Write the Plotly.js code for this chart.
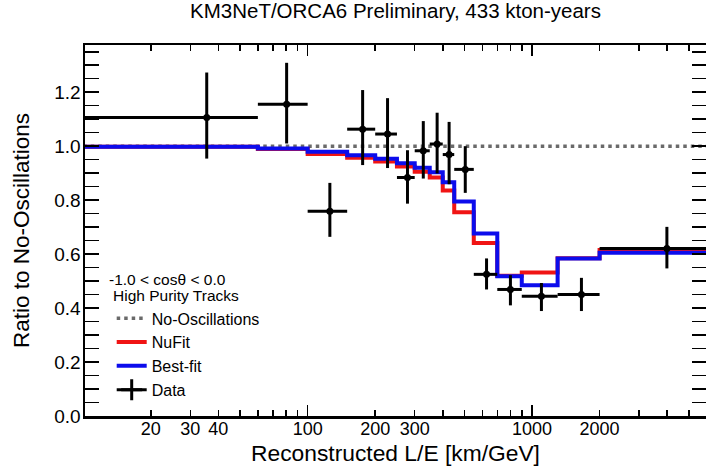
<!DOCTYPE html>
<html><head><meta charset="utf-8">
<script src="https://cdn.plot.ly/plotly-3.0.1.min.js"></script>
<style>html,body{margin:0;padding:0;background:#fff}#chart{width:706px;height:466px}</style>
</head><body><div id="chart"></div>
<script>
// ---- data ----
const binEdges   = [10, 60, 100, 150, 200, 250, 300, 350, 400, 450, 550, 700, 900, 1300, 2000, 6000];
const bestFit    = [0.998, 0.991, 0.979, 0.966, 0.953, 0.937, 0.920, 0.903, 0.866, 0.795, 0.676, 0.518, 0.485, 0.584, 0.605];
const nuFit      = [0.998, 0.990, 0.971, 0.957, 0.943, 0.925, 0.905, 0.884, 0.836, 0.755, 0.641, 0.520, 0.532, 0.585, 0.615];
const dataX      = [35.5, 80.6, 125.6, 175.8, 227, 278.5, 327.6, 377.6, 427, 504, 627, 801, 1101, 1660, 3990];
const dataY      = [1.106, 1.155, 0.759, 1.063, 1.045, 0.884, 0.983, 1.008, 0.969, 0.914, 0.525, 0.469, 0.444, 0.450, 0.621];
const dataHigh   = [1.273, 1.309, 0.864, 1.208, 1.178, 0.985, 1.093, 1.124, 1.090, 1.000, 0.584, 0.522, 0.493, 0.512, 0.701];
const dataLow    = [0.954, 1.010, 0.664, 0.930, 0.919, 0.787, 0.880, 0.899, 0.859, 0.827, 0.469, 0.410, 0.389, 0.389, 0.547];
const noOscRatio = 1.0;
const labeledTicks = [20, 30, 40, 100, 200, 300, 1000, 2000];
const allTicks     = [20, 30, 40, 50, 60, 70, 80, 90, 100, 200, 300, 400, 500, 600, 700, 800, 900, 1000, 2000, 3000, 4000, 5000];
const decadeTicks  = [100, 1000];
const yTicks       = [0, 0.2, 0.4, 0.6, 0.8, 1.0, 1.2];
const selectionLines = ['-1.0 &lt; cosθ &lt; 0.0', 'High Purity Tracks'];

// ---- derived ----
const nb = bestFit.length;
const lowEdges  = binEdges.slice(0, nb);
const highEdges = binEdges.slice(1);
const stepY = arr => arr.concat([arr[arr.length - 1]]);
const xRange = [Math.log10(10.18), Math.log10(5960)];

const RED = '#f01414', BLUE = '#0c0cec';

const traces = [
  { x: [binEdges[0], binEdges[binEdges.length - 1]], y: [noOscRatio, noOscRatio], mode: 'lines',
    name: 'No-Oscillations', line: { color: '#6a6a6a', width: 3.5, dash: '3.5px,4px' }, hoverinfo: 'skip' },
  { x: binEdges, y: stepY(nuFit), mode: 'lines', name: 'NuFit',
    line: { color: RED, width: 4, shape: 'hv' } },
  { x: binEdges, y: stepY(bestFit), mode: 'lines', name: 'Best-fit',
    line: { color: BLUE, width: 4, shape: 'hv' } },
  { x: dataX, y: dataY, mode: 'markers', name: 'Data', showlegend: false,
    marker: { color: '#000', size: 7, symbol: 'circle' },
    error_y: { type: 'data', symmetric: false,
      array: dataHigh.map((h, i) => h - dataY[i]),
      arrayminus: dataY.map((v, i) => v - dataLow[i]),
      color: '#000', thickness: 3, width: 0 },
    error_x: { type: 'data', symmetric: false,
      array: highEdges.map((h, i) => h - dataX[i]),
      arrayminus: dataX.map((v, i) => v - lowEdges[i]),
      color: '#000', thickness: 3, width: 0 } },
  { x: [null], y: [null], mode: 'lines+markers', name: 'Data', xaxis: 'x2',
    line: { color: '#000', width: 3 },
    marker: { symbol: 'cross-thin', size: 15, color: '#000', line: { color: '#000', width: 3 } } }
];

const FONT = '"Liberation Sans", Arial, Helvetica, sans-serif';
const layout = {
  width: 706, height: 466,
  margin: { l: 85, r: 0, t: 45, b: 50 },
  paper_bgcolor: '#fff', plot_bgcolor: '#fff',
  font: { family: FONT, color: '#000', size: 16 },
  title: { text: 'KM3NeT/ORCA6 Preliminary, 433 kton-years', font: { size: 20.5, color: '#000' },
    x: 0.5, xref: 'paper', xanchor: 'center', y: 0.976, yref: 'container', yanchor: 'middle' },
  showlegend: true,
  legend: { x: 0.043, xanchor: 'left', y: 0.309, yanchor: 'top', bgcolor: 'rgba(0,0,0,0)',
    borderwidth: 0, font: { size: 16 } },
  annotations: [
    { text: selectionLines[0], xref: 'paper', yref: 'paper', x: 0.0354, y: 0.369,
      xanchor: 'left', yanchor: 'middle', showarrow: false, font: { size: 15.5 } },
    { text: selectionLines[1], xref: 'paper', yref: 'paper', x: 0.0419, y: 0.3245,
      xanchor: 'left', yanchor: 'middle', showarrow: false, font: { size: 15.5 } }
  ],
  xaxis: { type: 'log', range: xRange, tickmode: 'array', tickvals: allTicks,
    ticktext: allTicks.map(v => labeledTicks.includes(v) ? String(v) : ''),
    ticks: 'inside', ticklen: 6, tickwidth: 1.5, tickcolor: '#000', ticklabelstandoff: -5,
    showline: true, linewidth: 2.5, linecolor: '#000', mirror: 'allticks',
    showgrid: false, zeroline: false, tickfont: { size: 18 }, automargin: false,
    title: { text: 'Reconstructed L/E [km/GeV]', font: { size: 22.8 }, standoff: 8 } },
  xaxis2: { type: 'log', range: xRange, overlaying: 'x', anchor: 'y', side: 'bottom',
    tickmode: 'array', tickvals: decadeTicks, showticklabels: false,
    ticks: 'inside', ticklen: 11, tickwidth: 1.5, tickcolor: '#000', mirror: 'ticks',
    showline: false, showgrid: false, zeroline: false },
  yaxis: { range: [0, 1.375], tickmode: 'array', tickvals: yTicks,
    ticktext: yTicks.map(v => v.toFixed(1)),
    ticks: 'inside', ticklen: 14, tickwidth: 1.5, tickcolor: '#000', ticklabelstandoff: -2,
    minor: { tickmode: 'linear', tick0: 0, dtick: 0.05, ticks: 'inside', ticklen: 6, tickwidth: 1.5, tickcolor: '#000', showgrid: false },
    showline: true, linewidth: 2.5, linecolor: '#000', mirror: 'allticks',
    showgrid: false, zeroline: false, tickfont: { size: 19 }, automargin: false,
    title: { text: 'Ratio to No-Oscillations', font: { size: 22.5 } } }
};

Plotly.newPlot('chart', traces, layout, { displayModeBar: false, staticPlot: true });
</script>
</body></html>
